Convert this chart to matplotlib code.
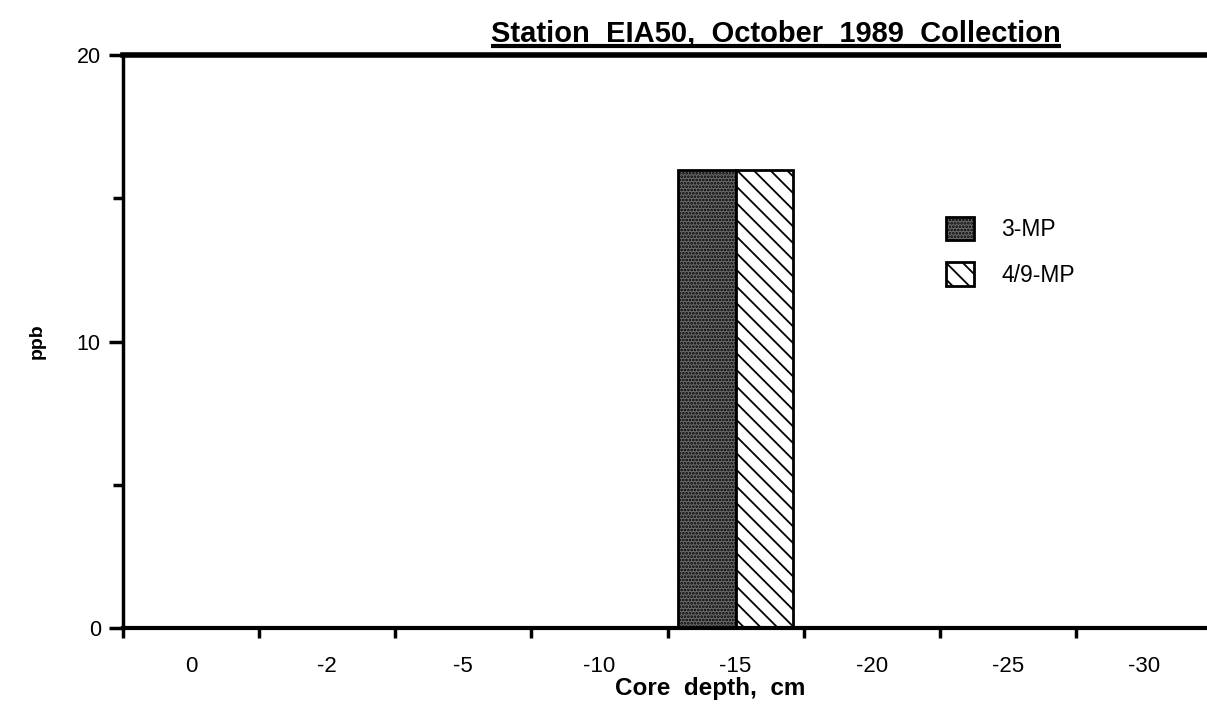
import matplotlib
matplotlib.use("Agg")
import matplotlib.pyplot as plt
import numpy as np

plt.rcParams['font.family'] = ['Liberation Sans', 'DejaVu Sans']
plt.rcParams['hatch.linewidth'] = 1.3

categories = ["0", "-2", "-5", "-10", "-15", "-20", "-25", "-30"]
mp3 = [0, 0, 0, 0, 16, 0, 0, 0]
mp49 = [0, 0, 0, 0, 16, 0, 0, 0]
series_names = ["3-MP", "4/9-MP"]
title = "Station  EIA50,  October  1989  Collection"
xlabel = "Core  depth,  cm"
ylabel = "ppb"

W, H = 1207, 709
fig = plt.figure(figsize=(W / 100, H / 100), dpi=100)
ax_left, ax_right, ax_top, ax_bot = 123, 1212, 55, 628
ax = fig.add_axes([ax_left / W, (H - ax_bot) / H,
                   (ax_right - ax_left) / W, (ax_bot - ax_top) / H])

def px_to_axes(px, py):
    return ((px - ax_left) / (ax_right - ax_left), (ax_bot - py) / (ax_bot - ax_top))

x = np.arange(len(categories))
bw = 0.42
b1 = ax.bar(x - bw / 2, mp3, bw, facecolor='#6b6b6b', edgecolor='black',
            hatch='.....', linewidth=2)
b2 = ax.bar(x + bw / 2, mp49, bw, facecolor='white', edgecolor='black',
            hatch='\\\\', linewidth=2)
for bars in (b1, b2):
    for r in bars:
        if r.get_height() == 0:
            r.set_visible(False)

ax.set_xlim(-0.5, len(categories) - 0.5)
ax.set_ylim(0, 20)

ax.set_xticks(x)
ax.set_xticklabels(categories, fontsize=16)
ax.set_xticks(np.arange(-0.5, len(categories), 1), minor=True)
ax.tick_params(axis='x', which='major', length=0, pad=20)
ax.tick_params(axis='x', which='minor', length=7, width=2.5, direction='out')

ax.set_yticks([0, 10, 20])
ax.set_yticklabels(["0", "10", "20"], fontsize=15.5)
ax.set_yticks([5, 15], minor=True)
ax.tick_params(axis='y', which='major', length=10, width=2.5, direction='out', pad=6)
ax.tick_params(axis='y', which='minor', length=7, width=2.5, direction='out')

ax.spines['right'].set_visible(False)
ax.spines['left'].set_linewidth(2.5)
ax.spines['bottom'].set_linewidth(3)
ax.spines['top'].set_linewidth(4)

leg = ax.legend([b1[4], b2[4]], series_names, frameon=False, fontsize=16.5,
                loc='upper left', bbox_to_anchor=px_to_axes(946, 217),
                handlelength=1.2, handleheight=1.2, handletextpad=1.2,
                labelspacing=0.9, borderaxespad=0, borderpad=0)

fig.text(710 / W, 1 - 688 / H, xlabel, fontsize=17.5, fontweight='bold',
         ha='center', va='center')
fig.text(37 / W, 1 - 341 / H, ylabel, fontsize=14, fontweight='bold',
         ha='center', va='center', rotation=90)

t = fig.text(776 / W, 1 - 41 / H, title, fontsize=21, fontweight='bold',
             ha='center', va='baseline')
fig.canvas.draw()
bb = t.get_window_extent(renderer=fig.canvas.get_renderer())
yline = (H - 46) / H
ax.plot([bb.x0 / W, bb.x1 / W], [yline, yline], transform=fig.transFigure,
        color='black', linewidth=3, clip_on=False, solid_capstyle='butt')

fig.savefig("out.png", dpi=100)
